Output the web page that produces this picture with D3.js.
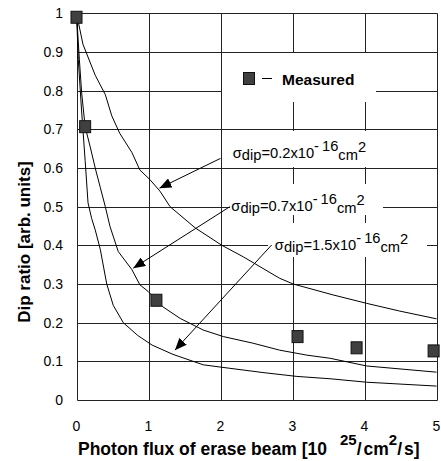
<!DOCTYPE html>
<html>
<head>
<meta charset="utf-8">
<script src="https://cdn.jsdelivr.net/npm/d3@7"></script>
<style>
  body { margin: 0; background: #fff; }
  text { font-family: "Liberation Sans", Arial, sans-serif; fill: #000; }
</style>
</head>
<body>
<div id="chart"></div>
<script>
// 刻度
const xTicks = [0, 1, 2, 3, 4, 5];
const yTicks = [0, 0.1, 0.2, 0.3, 0.4, 0.5, 0.6, 0.7, 0.8, 0.9, 1];

// 实测点
const measured = [
  [0, 0.99], [0.12, 0.707], [1.11, 0.258],
  [3.07, 0.164], [3.89, 0.135], [4.96, 0.127]
];

// 计算曲线
const curve02 = [
  [0, 1.0], [0.09, 0.92], [0.26, 0.84], [0.40, 0.79], [0.49, 0.735],
  [0.60, 0.69], [0.77, 0.64], [0.88, 0.595], [1.02, 0.57], [1.16, 0.54],
  [1.30, 0.50], [1.65, 0.445], [2.02, 0.40], [2.32, 0.37], [2.82, 0.315],
  [3.01, 0.30], [3.56, 0.272], [4.03, 0.25], [4.49, 0.23], [5.0, 0.21]
];
const curve07 = [
  [0, 1.0], [0.04, 0.88], [0.072, 0.794], [0.12, 0.707], [0.19, 0.655],
  [0.26, 0.60], [0.33, 0.55], [0.40, 0.50], [0.465, 0.449], [0.58, 0.384],
  [0.77, 0.337], [0.88, 0.298], [1.0, 0.28], [1.2, 0.241], [1.44, 0.211],
  [1.76, 0.181], [2.04, 0.164], [2.45, 0.147], [2.82, 0.129], [3.2, 0.116],
  [3.52, 0.108], [4.03, 0.088], [5.0, 0.072]
];
const curve15 = [
  [0, 1.0], [0.025, 0.88], [0.07, 0.75], [0.12, 0.62], [0.16, 0.51],
  [0.21, 0.47], [0.26, 0.44], [0.33, 0.39], [0.42, 0.30], [0.51, 0.245],
  [0.65, 0.20], [0.85, 0.167], [1.05, 0.142], [1.34, 0.118], [1.76, 0.091],
  [2.13, 0.082], [2.59, 0.071], [3.06, 0.061], [3.52, 0.055], [4.03, 0.046],
  [5.0, 0.036]
];

// 标注: 文字起点, 箭头尾, 箭头尖 (数据坐标)
const sigmaValues = ["0.2", "0.7", "1.5"];
const labelPos = [[2.17, 0.626], [2.15, 0.490], [2.755, 0.388]];
const arrowTail = [[2.0, 0.625], [2.13, 0.50], [2.71, 0.401]];
const arrowTip = [[1.152, 0.548], [0.788, 0.341], [1.367, 0.129]];

const WIDTH = 441;
const HEIGHT = 461;

const svg = d3.select("#chart").append("svg")
  .attr("width", WIDTH)
  .attr("height", HEIGHT);

const x = d3.scaleLinear().domain([0, 5]).range([76.5, 436.5]);
const y = d3.scaleLinear().domain([0, 1]).range([400, 13.4]);
const px = v => Math.round(x(v)) + 0.5;
const py = v => Math.round(y(v)) + 0.5;

// 箭头
svg.append("defs").append("marker")
  .attr("id", "arrow")
  .attr("markerUnits", "userSpaceOnUse")
  .attr("viewBox", "0 0 12 10")
  .attr("refX", 12).attr("refY", 5)
  .attr("markerWidth", 12).attr("markerHeight", 10)
  .attr("orient", "auto")
  .append("path")
  .attr("d", "M0,0 L12,5 L0,10 Z")
  .attr("fill", "#000");

// 网格
const grid = svg.append("g").attr("stroke", "#222").attr("stroke-width", 1);
grid.selectAll(".h").data(yTicks).join("line")
  .attr("x1", px(0)).attr("x2", px(5))
  .attr("y1", d => py(d)).attr("y2", d => py(d));
grid.selectAll(".v").data(xTicks).join("line")
  .attr("x1", d => px(d)).attr("x2", d => px(d))
  .attr("y1", py(0)).attr("y2", py(1));

// 刻度标签
svg.append("g").selectAll("text").data(yTicks).join("text")
  .attr("x", 63).attr("y", d => y(d) + 5)
  .attr("text-anchor", "end")
  .attr("font-size", "14px")
  .text(d => d3.format("")(d));
svg.append("g").selectAll("text").data(xTicks).join("text")
  .attr("x", d => x(d)).attr("y", 431)
  .attr("text-anchor", "middle")
  .attr("font-size", "14px")
  .text(d => d);

// 图例与标注的白底
svg.append("rect")
  .attr("x", 222).attr("y", 53).attr("width", 154).attr("height", 49)
  .attr("fill", "#fff");
const boxes = [[222, 131, 153, 36], [230, 184, 153, 31], [268, 223, 159, 34]];
svg.append("g").selectAll("rect").data(boxes).join("rect")
  .attr("x", d => d[0]).attr("y", d => d[1])
  .attr("width", d => d[2]).attr("height", d => d[3])
  .attr("fill", "#fff");

// 曲线
const line = d3.line().x(d => x(d[0])).y(d => y(d[1]));
svg.append("g").selectAll("path").data([curve02, curve07, curve15]).join("path")
  .attr("d", line)
  .attr("fill", "none")
  .attr("stroke", "#000")
  .attr("stroke-width", 1);

// 箭头线
svg.append("g").selectAll("line").data(arrowTail).join("line")
  .attr("x1", d => x(d[0])).attr("y1", d => y(d[1]))
  .attr("x2", (d, i) => x(arrowTip[i][0])).attr("y2", (d, i) => y(arrowTip[i][1]))
  .attr("stroke", "#000").attr("stroke-width", 1)
  .attr("marker-end", "url(#arrow)");

// 实测点
svg.append("g").selectAll("rect").data(measured).join("rect")
  .attr("x", d => x(d[0]) - 5.5).attr("y", d => y(d[1]) - 6)
  .attr("width", 11).attr("height", 12)
  .attr("fill", "#404040").attr("stroke", "#111").attr("stroke-width", 1);

// 图例
svg.append("rect")
  .attr("x", 243.5).attr("y", 72.5).attr("width", 11).attr("height", 12)
  .attr("fill", "#404040").attr("stroke", "#111");
svg.append("line")
  .attr("x1", 262).attr("x2", 272).attr("y1", 78.5).attr("y2", 78.5)
  .attr("stroke", "#000");
svg.append("text")
  .attr("x", 282).attr("y", 85)
  .attr("font-size", "15.5px").attr("font-weight", "bold")
  .text("Measured");

// σ 标注文字
sigmaValues.forEach((s, i) => {
  const t = svg.append("text")
    .attr("x", x(labelPos[i][0])).attr("y", y(labelPos[i][1]))
    .attr("font-size", "14.7px");
  t.append("tspan").text("σ");
  t.append("tspan").attr("dy", 2.5).text("dip");
  t.append("tspan").attr("dy", -2.5).text("=" + s + "x10");
  t.append("tspan").attr("dy", -6.5).text("-");
  t.append("tspan").attr("dx", 3).text("16");
  t.append("tspan").attr("dy", 8.5).text("cm");
  t.append("tspan").attr("dy", -8).text("2");
});

// 轴标题
svg.append("text")
  .attr("transform", "translate(30,242) rotate(-90)")
  .attr("text-anchor", "middle")
  .attr("font-size", "17px").attr("font-weight", "bold")
  .text("Dip ratio [arb. units]");

const xt = svg.append("text")
  .attr("x", 78).attr("y", 455)
  .attr("font-size", "17.5px").attr("font-weight", "bold");
xt.append("tspan").text("Photon flux of erase beam [10");
xt.append("tspan").attr("dx", 13).attr("dy", -10).attr("font-size", "15px").text("25");
xt.append("tspan").attr("dy", 10).text("/");
xt.append("tspan").attr("dx", 2).text("cm");
xt.append("tspan").attr("dy", -10).attr("font-size", "15px").text("2");
xt.append("tspan").attr("dy", 10).text("/");
xt.append("tspan").attr("dx", 2).text("s]");
</script>
</body>
</html>
